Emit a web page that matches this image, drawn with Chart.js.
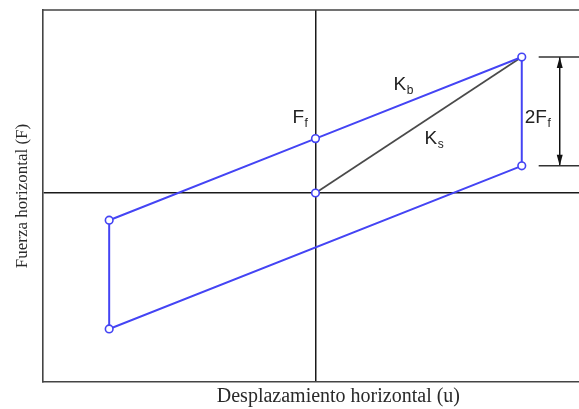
<!DOCTYPE html>
<html>
<head>
<meta charset="utf-8">
<script src="https://cdn.jsdelivr.net/npm/chart.js@4/dist/chart.umd.min.js"></script>
<style>
html,body{margin:0;padding:0;background:#fff;overflow:hidden;width:579px;height:409px;}
canvas{display:block;}
</style>
</head>
<body>
<canvas id="c" width="640" height="409"></canvas>
<script>
// ---- data (normalised displacement u, normalised force F) ----
const loopU = [-1, 0, 1, 1, -1, -1];
const loopF = [-0.2, 0.4, 1, 0.2, -1, -0.2];
const loopMarker = [true, true, true, true, true, false];
const secantU = [0, 1];
const secantF = [0, 1];
const uMax = 1;          // max displacement
const fMax = 1;          // max force
const fFriction = 0.4;   // Ff
const bracketU = [1.082, 1.184, 1.40];  // start of tick, arrow line, end of tick
const xTitle = 'Desplazamiento horizontal (u)';
const yTitle = 'Fuerza horizontal (F)';

const BLUE = '#4444f4';
const pts = (us, fs) => us.map((u, i) => ({x: u, y: fs[i]}));

const bracketTop = [{x: bracketU[0], y: fMax}, {x: bracketU[2], y: fMax}];
const bracketBot = [{x: bracketU[0], y: fMax - 2 * fFriction}, {x: bracketU[2], y: fMax - 2 * fFriction}];
const bracketMid = [{x: bracketU[1], y: fMax}, {x: bracketU[1], y: fMax - 2 * fFriction}];

const labelPlugin = {
  id: 'labels',
  afterDatasetsDraw(chart) {
    const {ctx, scales: {x, y}, chartArea} = chart;
    ctx.save();
    // frame top & right
    ctx.strokeStyle = '#444';
    ctx.lineWidth = 1.6;
    ctx.beginPath();
    ctx.moveTo(chartArea.left, chartArea.top);
    ctx.lineTo(chartArea.right, chartArea.top);
    ctx.lineTo(chartArea.right, chartArea.bottom);
    ctx.stroke();
    // arrowheads
    const ax = x.getPixelForValue(bracketU[1]);
    const yt = y.getPixelForValue(fMax);
    const yb = y.getPixelForValue(fMax - 2 * fFriction);
    ctx.fillStyle = '#111';
    ctx.beginPath();
    ctx.moveTo(ax, yt); ctx.lineTo(ax - 3, yt + 11); ctx.lineTo(ax + 3, yt + 11); ctx.closePath(); ctx.fill();
    ctx.beginPath();
    ctx.moveTo(ax, yb); ctx.lineTo(ax - 3, yb - 11); ctx.lineTo(ax + 3, yb - 11); ctx.closePath(); ctx.fill();
    // text labels with subscripts
    const draw = (main, sub, px, py) => {
      ctx.fillStyle = '#222';
      ctx.textBaseline = 'alphabetic';
      ctx.textAlign = 'left';
      ctx.font = '19px "Liberation Sans", Arial, sans-serif';
      ctx.fillText(main, px, py);
      const w = ctx.measureText(main).width;
      ctx.font = '12px "Liberation Sans", Arial, sans-serif';
      ctx.fillText(sub, px + w + 0.5, py + 4);
    };
    const X = v => x.getPixelForValue(v), Y = v => y.getPixelForValue(v);
    draw('F', 'f', X(0) - 23, Y(fFriction) - 16);
    draw('K', 'b', X(uMax / 2) - 25, Y((fFriction + fMax) / 2) - 8);
    draw('K', 's', X(uMax / 2) + 6, Y(fMax / 2) + 19);
    draw('2F', 'f', X(uMax) + 3, Y(fMax - fFriction) + 11.5);
    ctx.restore();
  }
};

const zeroOnly = (scale) => { scale.ticks = [{value: 0}]; };
const gridColor = (c) => (c.tick && c.tick.value === 0) ? '#1a1a1a' : 'rgba(0,0,0,0)';

new Chart(document.getElementById('c'), {
  type: 'scatter',
  data: {
    datasets: [
      {
        data: pts(loopU, loopF),
        showLine: true,
        borderColor: BLUE,
        borderWidth: 2,
        pointRadius: loopMarker.map(m => m ? 3.8 : 0),
        pointBackgroundColor: '#fff',
        pointBorderColor: BLUE,
        pointBorderWidth: 1.6
      },
      {
        data: pts(secantU, secantF),
        showLine: true,
        borderColor: '#4a4a4a',
        borderWidth: 1.7,
        pointRadius: [3.8, 0],
        pointBackgroundColor: '#fff',
        pointBorderColor: BLUE,
        pointBorderWidth: 1.6
      },
      { data: bracketTop, showLine: true, borderColor: '#333', borderWidth: 1.5, pointRadius: 0 },
      { data: bracketBot, showLine: true, borderColor: '#333', borderWidth: 1.5, pointRadius: 0 },
      { data: bracketMid, showLine: true, borderColor: '#111', borderWidth: 1.5, pointRadius: 0 }
    ]
  },
  options: {
    responsive: false,
    animation: false,
    layout: {padding: {left: 8, top: 10, right: 4, bottom: 0}},
    plugins: {legend: {display: false}, tooltip: {enabled: false}},
    scales: {
      x: {
        type: 'linear', min: -1.3237, max: 1.546,
        afterBuildTicks: zeroOnly,
        ticks: {display: false},
        grid: {drawTicks: false, color: gridColor, lineWidth: 1.5},
        border: {display: true, color: '#444', width: 1.6},
        title: {display: true, text: xTitle, color: '#2a2a2a',
                font: {family: '"Liberation Serif", "Times New Roman", serif', size: 20, lineHeight: 1.1},
                padding: {top: 4, bottom: 1}}
      },
      y: {
        type: 'linear', min: -1.39, max: 1.346,
        afterBuildTicks: zeroOnly,
        ticks: {display: false},
        grid: {drawTicks: false, color: gridColor, lineWidth: 1.5},
        border: {display: true, color: '#444', width: 1.6},
        title: {display: true, text: yTitle, color: '#2a2a2a',
                font: {family: '"Liberation Serif", "Times New Roman", serif', size: 17},
                padding: {top: 4, bottom: 10}}
      }
    }
  },
  plugins: [labelPlugin]
});
</script>
</body>
</html>
